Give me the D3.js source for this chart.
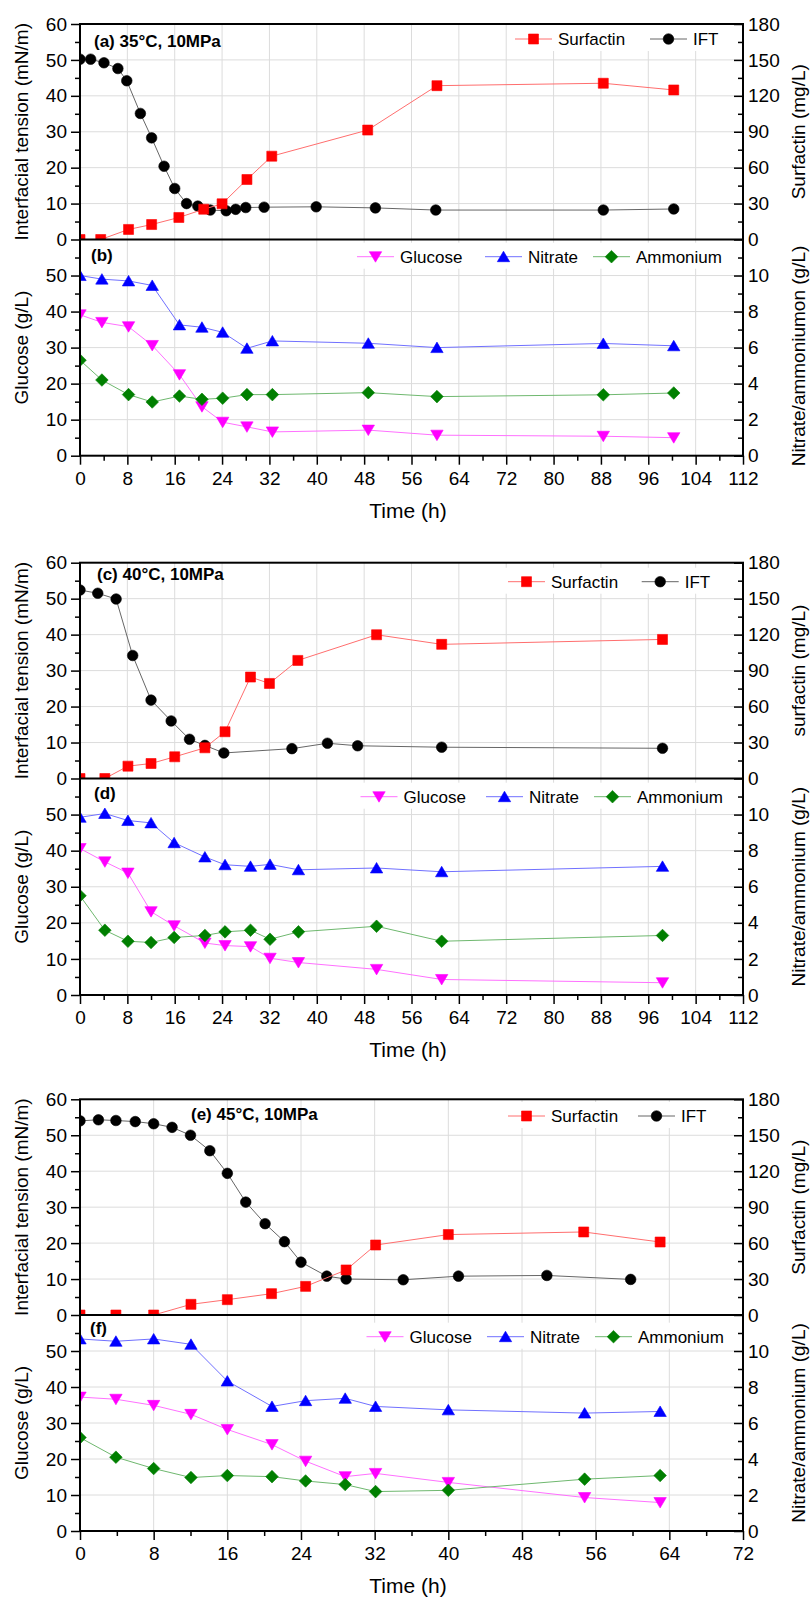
<!DOCTYPE html>
<html><head><meta charset="utf-8">
<script src="https://cdn.jsdelivr.net/npm/d3@7"></script>
<style>
body{margin:0;background:#fff}
svg{display:block}
text{font-family:"Liberation Sans",Arial,Helvetica,sans-serif;fill:#000}
</style>
</head><body>
<svg id="c" width="811" height="1597"></svg>
<script>
// ---------------- DATA ----------------
// tick labels
const xTicksLong  = [0,8,16,24,32,40,48,56,64,72,80,88,96,104,112];
const xTicksShort = [0,8,16,24,32,40,48,56,64,72];
const iftTicks     = [0,10,20,30,40,50,60];
const surfTicks    = [0,30,60,90,120,150,180];
const glucoseTicks = [0,10,20,30,40,50];
const nitrTicks    = [0,2,4,6,8,10];

// (a)/(b) 35 °C, 10 MPa
const t35Ift  = [0,1.8,4.05,6.4,7.9,10.2,12.1,14.2,16.0,18.0,19.9,22.0,24.7,26.3,28.0,31.1,39.9,49.9,60.1,88.4,100.3];
const ift35   = [50.2,50.2,49.2,47.6,44.2,35.1,28.3,20.4,14.2,10.0,9.3,8.2,8.0,8.4,8.9,9.0,9.1,8.8,8.2,8.2,8.5];
const t35Surf = [0,3.5,8.2,12.1,16.7,20.9,24.0,28.2,32.4,48.6,60.3,88.4,100.3];
const surf35  = [0,0,8.4,12.5,18.4,25.3,29.8,50.1,69.6,91.4,128.5,130.5,124.9];
const t35Nut  = [0,3.7,8.2,12.2,16.8,20.6,24.1,28.2,32.5,48.7,60.3,88.4,100.3];
const glucose35  = [39.1,37.0,35.8,30.6,22.5,13.6,9.3,8.0,6.6,7.1,5.7,5.4,5.0];
const nitrate35  = [10.0,9.8,9.7,9.45,7.26,7.13,6.85,5.96,6.37,6.24,6.0,6.23,6.1];
const ammonium35 = [5.3,4.2,3.39,2.98,3.31,3.13,3.19,3.39,3.39,3.5,3.28,3.38,3.48];

// (c)/(d) 40 °C, 10 MPa
const t40Ift  = [0,3.0,6.1,8.9,12.0,15.4,18.5,21.1,24.3,35.8,41.8,46.9,61.1,98.4];
const ift40   = [52.4,51.5,49.9,34.2,21.8,16.0,10.9,9.2,7.1,8.3,9.8,9.1,8.7,8.4];
const t40Surf = [0,4.2,8.1,12.0,16.0,21.1,24.5,28.8,32.0,36.8,50.1,61.1,98.4];
const surf40  = [0,0,10.3,12.5,18.1,25.6,39.0,84.6,79.3,98.5,119.9,111.9,116.0];
const t40Nut  = [0,4.2,8.1,12.0,15.9,21.1,24.5,28.8,32.1,36.9,50.1,61.1,98.4];
const glucose40  = [40.6,36.9,33.8,23.1,19.2,14.4,13.7,13.4,10.2,9.0,7.1,4.3,3.4];
const nitrate40  = [9.85,10.06,9.67,9.54,8.44,7.65,7.22,7.13,7.24,6.94,7.04,6.83,7.13];
const ammonium40 = [5.5,3.59,2.98,2.91,3.19,3.30,3.5,3.59,3.09,3.5,3.81,2.98,3.30];

// (e)/(f) 45 °C, 10 MPa
const t45Ift  = [0,2.0,3.9,6.0,8.0,10.0,12.0,14.1,16.0,18.0,20.1,22.2,24.0,26.8,28.9,35.1,41.1,50.7,59.8];
const ift45   = [54.0,54.3,54.1,53.8,53.2,52.2,50.0,45.7,39.4,31.4,25.4,20.4,14.7,10.8,10.0,9.8,10.8,11.0,9.9];
const t45Surf = [0,3.9,8.0,12.05,16.0,20.8,24.5,28.9,32.1,40.0,54.7,63.0];
const surf45  = [0,0,0,8.9,12.8,17.8,23.9,37.6,58.4,67.1,69.3,60.9];
const t45Nut  = [0,3.9,8.0,12.05,16.0,20.85,24.5,28.8,32.1,40.0,54.8,63.0];
const glucose45  = [37.2,36.6,34.9,32.4,28.2,24.0,19.4,15.1,16.0,13.5,9.3,7.9];
const nitrate45  = [10.67,10.54,10.67,10.37,8.33,6.92,7.24,7.37,6.92,6.73,6.55,6.64];
const ammonium45 = [5.19,4.10,3.47,2.97,3.08,3.02,2.78,2.58,2.19,2.26,2.88,3.08];

// ---------------- LAYOUT ----------------
const W = 811, H = 1597, X0 = 80, X1 = 743;
const TICK_FS = 19, TITLE_FS = 19, XTITLE_FS = 21, LEG_FS = 17, LAB_FS = 17;
const GRID = '#dcdcdc';

const charts = [
  {top:24, mid:239.5, bot:455.7, xMax:112, xTicks:xTicksLong,
   labA:'(a) 35°C, 10MPa', labAPos:[94,47], labB:'(b)', labBPos:[91,261],
   rTop:'Surfactin (mg/L)', rBot:'Nitrate/ammoniumon (g/L)', rBotCy:356,
   legTop:{x:[515,650], y:39}, legBot:{x:[357,485,593], y:256.7},
   ift:[t35Ift,ift35], surf:[t35Surf,surf35], nut:[t35Nut,glucose35,nitrate35,ammonium35]},
  {top:562.7, mid:778.5, bot:995, xMax:112, xTicks:xTicksLong,
   labA:'(c) 40°C, 10MPa', labAPos:[97,580], labB:'(d)', labBPos:[94,799],
   rTop:'surfactin (mg/L)', rBot:'Nitrate/ammonium (g/L)', rBotCy:886.7,
   legTop:{x:[508,641.7], y:581.7}, legBot:{x:[360.5,486,594], y:796.7},
   ift:[t40Ift,ift40], surf:[t40Surf,surf40], nut:[t40Nut,glucose40,nitrate40,ammonium40]},
  {top:1099.3, mid:1315, bot:1531, xMax:72, xTicks:xTicksShort,
   labA:'(e) 45°C, 10MPa', labAPos:[191,1120], labB:'(f)', labBPos:[90,1334],
   rTop:'Surfactin (mg/L)', rBot:'Nitrate/ammonium (g/L)', rBotCy:1423,
   legTop:{x:[508,638], y:1116}, legBot:{x:[366.5,487,595], y:1336.7},
   ift:[t45Ift,ift45], surf:[t45Surf,surf45], nut:[t45Nut,glucose45,nitrate45,ammonium45]}
];

const svg = d3.select('#c');
svg.append('rect').attr('width',W).attr('height',H).attr('fill','#fff');

function markerPath(type){
  switch(type){
    case 'square': return 'M-5,-5H5V5H-5Z';
    case 'circle': { const r=5.3; return `M${-r},0A${r},${r} 0 1,0 ${r},0A${r},${r} 0 1,0 ${-r},0Z`; }
    case 'triUp': return 'M0,-5.5L6.2,5L-6.2,5Z';
    case 'triDown': return 'M0,5.5L6.2,-5L-6.2,-5Z';
    case 'diamond': return 'M0,-6.3L6.3,0L0,6.3L-6.3,0Z';
  }
}

function drawSeries(g, xs, ys, xScale, yScale, lineColor, mColor, mType){
  const pts = xs.map((t,i)=>[xScale(t), yScale(ys[i])]);
  g.append('path').attr('d', d3.line()(pts)).attr('fill','none')
    .attr('stroke', lineColor).attr('stroke-width',1);
  g.selectAll(null).data(pts).enter().append('path')
    .attr('d', markerPath(mType)).attr('transform', d=>`translate(${d[0]},${d[1]})`)
    .attr('fill', mColor).attr('stroke', mColor).attr('stroke-width',0.6);
}

function legend(g, items, xs, y, top){
  const bx = xs[0]-8, by = Math.max(top+1, y-14);
  g.append('rect').attr('x',bx).attr('y',by).attr('width',X1-1-bx).attr('height',y+12-by).attr('fill','#fff');
  items.forEach((it,i)=>{
    const x = xs[i];
    g.append('line').attr('x1',x).attr('x2',x+37).attr('y1',y).attr('y2',y)
      .attr('stroke',it.line).attr('stroke-width',1);
    g.append('path').attr('d',markerPath(it.m)).attr('transform',`translate(${x+18.5},${y})`)
      .attr('fill',it.c).attr('stroke',it.c).attr('stroke-width',0.6);
    g.append('text').attr('x',x+43).attr('y',y).attr('dy','0.35em')
      .attr('font-size',LEG_FS).text(it.name);
  });
}

function styleAxis(sel){
  sel.select('.domain').remove();
  sel.attr('font-family',null).attr('font-size',null);
  sel.selectAll('line').attr('stroke','#000').attr('stroke-width',1.5);
  sel.selectAll('text').attr('font-size',TICK_FS).attr('fill','#000');
}

charts.forEach((c,ci)=>{
  const g = svg.append('g');
  const x = d3.scaleLinear().domain([0,c.xMax]).range([X0,X1]);
  const yL  = d3.scaleLinear().domain([0,60]).range([c.mid,c.top]);
  const yR  = d3.scaleLinear().domain([0,180]).range([c.mid,c.top]);
  const yL2 = d3.scaleLinear().domain([0,60]).range([c.bot,c.mid]);
  const yR2 = d3.scaleLinear().domain([0,12]).range([c.bot,c.mid]);

  const defs = g.append('defs');
  defs.append('clipPath').attr('id','ct'+ci).append('rect')
    .attr('x',X0).attr('y',c.top).attr('width',X1-X0).attr('height',c.mid-c.top);
  defs.append('clipPath').attr('id','cb'+ci).append('rect')
    .attr('x',X0).attr('y',c.mid).attr('width',X1-X0).attr('height',c.bot-c.mid);

  // grid
  const vx = c.xTicks.filter(v=>v>0 && v<c.xMax);
  const grid = g.append('g').attr('stroke',GRID).attr('stroke-width',1);
  vx.forEach(v=>{
    grid.append('line').attr('x1',x(v)).attr('x2',x(v)).attr('y1',c.top).attr('y2',c.bot);
  });
  iftTicks.filter(v=>v>0 && v<60).forEach(v=>{
    grid.append('line').attr('x1',X0).attr('x2',X1).attr('y1',yL(v)).attr('y2',yL(v));
    grid.append('line').attr('x1',X0).attr('x2',X1).attr('y1',yL2(v)).attr('y2',yL2(v));
  });

  // top panel data
  const gt = g.append('g').attr('clip-path',`url(#ct${ci})`);
  drawSeries(gt, c.ift[0], c.ift[1], x, yL, '#666666', '#000000', 'circle');
  drawSeries(gt, c.surf[0], c.surf[1], x, yR, '#ff6e6e', '#ff0000', 'square');

  // bottom panel data
  const gb = g.append('g').attr('clip-path',`url(#cb${ci})`);
  const [tn, glu, nit, amm] = c.nut;
  drawSeries(gb, tn, glu, x, yL2, '#ff70ff', '#ff00ff', 'triDown');
  drawSeries(gb, tn, nit, x, yR2, '#7070ff', '#0000ff', 'triUp');
  drawSeries(gb, tn, amm, x, yR2, '#6fb86f', '#007f00', 'diamond');

  // legends
  legend(g, [{name:'Surfactin',line:'#ff6e6e',c:'#ff0000',m:'square'},
             {name:'IFT',line:'#666666',c:'#000000',m:'circle'}], c.legTop.x, c.legTop.y, c.top);
  legend(g, [{name:'Glucose',line:'#ff70ff',c:'#ff00ff',m:'triDown'},
             {name:'Nitrate',line:'#7070ff',c:'#0000ff',m:'triUp'},
             {name:'Ammonium',line:'#6fb86f',c:'#007f00',m:'diamond'}], c.legBot.x, c.legBot.y, c.mid);

  // panel labels
  g.append('text').attr('x',c.labAPos[0]).attr('y',c.labAPos[1]).attr('font-size',LAB_FS)
    .attr('font-weight','bold').text(c.labA);
  g.append('text').attr('x',c.labBPos[0]).attr('y',c.labBPos[1]).attr('font-size',LAB_FS)
    .attr('font-weight','bold').text(c.labB);

  // axes: left top
  const minorL = d3.range(5,60,10);
  g.append('g').attr('transform',`translate(${X0},0)`)
    .call(d3.axisLeft(yL).tickValues(iftTicks).tickSize(9).tickPadding(4)).call(styleAxis);
  g.append('g').attr('transform',`translate(${X0},0)`)
    .call(d3.axisLeft(yL).tickValues(minorL).tickSize(5).tickFormat('')).call(styleAxis);
  // left bottom
  g.append('g').attr('transform',`translate(${X0},0)`)
    .call(d3.axisLeft(yL2).tickValues(glucoseTicks).tickSize(9).tickPadding(4)).call(styleAxis);
  g.append('g').attr('transform',`translate(${X0},0)`)
    .call(d3.axisLeft(yL2).tickValues(minorL).tickSize(5).tickFormat('')).call(styleAxis);
  // right top
  g.append('g').attr('transform',`translate(${X1},0)`)
    .call(d3.axisRight(yR).tickValues(surfTicks).tickSize(-9).tickPadding(5)).call(styleAxis);
  g.append('g').attr('transform',`translate(${X1},0)`)
    .call(d3.axisRight(yR).tickValues(d3.range(15,180,30)).tickSize(-5).tickFormat('')).call(styleAxis);
  // right bottom
  g.append('g').attr('transform',`translate(${X1},0)`)
    .call(d3.axisRight(yR2).tickValues(nitrTicks).tickSize(-9).tickPadding(5)).call(styleAxis);
  g.append('g').attr('transform',`translate(${X1},0)`)
    .call(d3.axisRight(yR2).tickValues(d3.range(1,12,2)).tickSize(-5).tickFormat('')).call(styleAxis);
  // bottom x
  g.append('g').attr('transform',`translate(0,${c.bot})`)
    .call(d3.axisBottom(x).tickValues(c.xTicks).tickSize(9).tickPadding(6.5)).call(styleAxis);
  g.append('g').attr('transform',`translate(0,${c.bot})`)
    .call(d3.axisBottom(x).tickValues(d3.range(4,c.xMax,8)).tickSize(5).tickFormat('')).call(styleAxis);

  // frame
  const fr = g.append('g').attr('stroke','#000').attr('stroke-width',2).attr('fill','none');
  fr.append('rect').attr('x',X0).attr('y',c.top).attr('width',X1-X0).attr('height',c.bot-c.top);
  fr.append('line').attr('x1',X0).attr('x2',X1).attr('y1',c.mid).attr('y2',c.mid);

  // titles
  g.append('text').attr('transform',`translate(28,${(c.top+c.mid)/2}) rotate(-90)`)
    .attr('text-anchor','middle').attr('font-size',TITLE_FS).text('Interfacial tension (mN/m)');
  g.append('text').attr('transform',`translate(28,${(c.mid+c.bot)/2}) rotate(-90)`)
    .attr('text-anchor','middle').attr('font-size',TITLE_FS).text('Glucose (g/L)');
  g.append('text').attr('transform',`translate(805,${(c.top+c.mid)/2}) rotate(-90)`)
    .attr('text-anchor','middle').attr('font-size',TITLE_FS).text(c.rTop);
  g.append('text').attr('transform',`translate(805,${c.rBotCy}) rotate(-90)`)
    .attr('text-anchor','middle').attr('font-size',TITLE_FS).text(c.rBot);
  g.append('text').attr('x',408).attr('y',c.bot+62).attr('text-anchor','middle')
    .attr('font-size',XTITLE_FS).text('Time (h)');
});
</script>
</body></html>
